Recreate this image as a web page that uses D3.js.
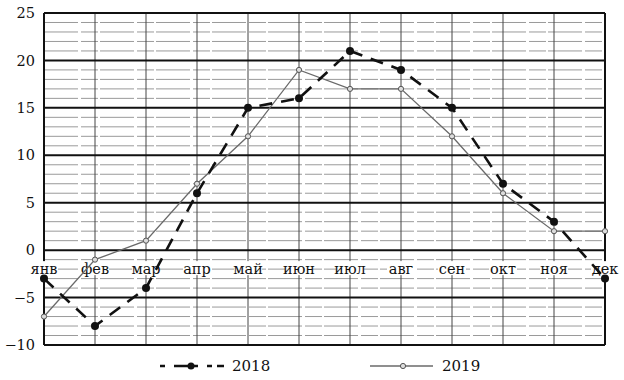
<!DOCTYPE html>
<html>
<head>
<meta charset="utf-8">
<script src="https://d3js.org/d3.v7.min.js"></script>
<style>
  body { margin: 0; background: #fff; }
  text { font-family: "DejaVu Serif", "Liberation Serif", serif; }
</style>
</head>
<body>
<div id="chart"></div>
<script>
var months = ["янв", "фев", "мар", "апр", "май", "июн", "июл", "авг", "сен", "окт", "ноя", "дек"];
var temp2018 = [-3, -8, -4, 6, 15, 16, 21, 19, 15, 7, 3, -3];
var temp2019 = [-7, -1, 1, 7, 12, 19, 17, 17, 12, 6, 2, 2];
var yTicks = [-10, -5, 0, 5, 10, 15, 20, 25];
var seriesNames = ["2018", "2019"];

var W = 624, H = 380;
var x0 = 44, x1 = 605, yTop = 13, yBot = 345;

var svg = d3.select("#chart").append("svg")
    .attr("width", W)
    .attr("height", H);

var x = d3.scalePoint()
    .domain(months)
    .range([x0, x1]);

var y = d3.scaleLinear()
    .domain([-10, 25])
    .range([yBot, yTop]);

// minor horizontal grid (every 1 unit)
var minor = d3.range(-10, 26).filter(function(v) { return v % 5 !== 0; });
svg.append("g")
  .selectAll("line")
  .data(minor)
  .enter().append("line")
    .attr("x1", x0).attr("x2", x1)
    .attr("y1", function(d) { return y(d); })
    .attr("y2", function(d) { return y(d); })
    .style("stroke", "#9a9a9a")
    .style("stroke-width", 1)
    .style("stroke-dasharray", "34,3,17,2");

// vertical month lines
svg.append("g")
  .selectAll("line")
  .data(months)
  .enter().append("line")
    .attr("x1", function(d) { return x(d); })
    .attr("x2", function(d) { return x(d); })
    .attr("y1", yTop).attr("y2", yBot)
    .style("stroke", "#444")
    .style("stroke-width", 1);

// major horizontal lines
svg.append("g")
  .selectAll("line")
  .data(yTicks)
  .enter().append("line")
    .attr("x1", x0).attr("x2", x1)
    .attr("y1", function(d) { return y(d); })
    .attr("y2", function(d) { return y(d); })
    .style("stroke", "#111")
    .style("stroke-width", 2);

// borders left/right
svg.append("line")
    .attr("x1", x0).attr("x2", x0).attr("y1", yTop).attr("y2", yBot)
    .style("stroke", "#111").style("stroke-width", 2);
svg.append("line")
    .attr("x1", x1).attr("x2", x1).attr("y1", yTop).attr("y2", yBot)
    .style("stroke", "#111").style("stroke-width", 2);

// y axis labels
var yAxis = svg.append("g")
    .attr("transform", "translate(35,0)")
    .call(d3.axisLeft(y).tickValues(yTicks).tickSize(0).tickPadding(0));
yAxis.select(".domain").remove();
yAxis.selectAll("text")
    .style("font-family", "'DejaVu Serif', serif")
    .style("font-size", "14.5px")
    .style("fill", "#111");

// month labels on the -2 line, with white backing
var labelY = y(-2);
var mLab = svg.append("g")
  .selectAll("g")
  .data(months)
  .enter().append("g")
    .attr("transform", function(d) { return "translate(" + x(d) + "," + labelY + ")"; });
mLab.append("rect")
    .attr("x", -14).attr("y", -8)
    .attr("width", 28).attr("height", 14)
    .style("fill", "#fff");
mLab.append("text")
    .attr("text-anchor", "middle")
    .attr("dy", "0.32em")
    .style("font-size", "14.5px")
    .style("fill", "#111")
    .text(function(d) { return d; });

var line = d3.line()
    .x(function(d, i) { return x(months[i]); })
    .y(function(d) { return y(d); });

// 2019
svg.append("path")
    .datum(temp2019)
    .attr("d", line)
    .style("fill", "none")
    .style("stroke", "#6a6a6a")
    .style("stroke-width", 1.3);
svg.append("g")
  .selectAll("circle")
  .data(temp2019)
  .enter().append("circle")
    .attr("cx", function(d, i) { return x(months[i]); })
    .attr("cy", function(d) { return y(d); })
    .attr("r", 2.6)
    .style("fill", "#ddd")
    .style("stroke", "#555")
    .style("stroke-width", 1);

// 2018
svg.append("path")
    .datum(temp2018)
    .attr("d", line)
    .style("fill", "none")
    .style("stroke", "#111")
    .style("stroke-width", 2.6)
    .style("stroke-dasharray", "13,9");
svg.append("g")
  .selectAll("circle")
  .data(temp2018)
  .enter().append("circle")
    .attr("cx", function(d, i) { return x(months[i]); })
    .attr("cy", function(d) { return y(d); })
    .attr("r", 4)
    .style("fill", "#111");

// legend
var ly = 366;
var l1 = svg.append("g");
l1.append("line")
    .attr("x1", 160).attr("x2", 224).attr("y1", ly).attr("y2", ly)
    .style("stroke", "#111").style("stroke-width", 2.6)
    .style("stroke-dasharray", "5,9,12,0,12,9,5");
l1.append("circle").attr("cx", 191).attr("cy", ly).attr("r", 3.5).style("fill", "#111");
l1.append("text")
    .attr("x", 232).attr("y", ly).attr("dy", "0.36em")
    .style("font-size", "15px").style("fill", "#111")
    .text(seriesNames[0]);

var l2 = svg.append("g");
l2.append("line")
    .attr("x1", 370).attr("x2", 433).attr("y1", ly).attr("y2", ly)
    .style("stroke", "#6a6a6a").style("stroke-width", 1.3);
l2.append("circle").attr("cx", 403).attr("cy", ly).attr("r", 2.6)
    .style("fill", "#ddd").style("stroke", "#555");
l2.append("text")
    .attr("x", 442).attr("y", ly).attr("dy", "0.36em")
    .style("font-size", "15px").style("fill", "#111")
    .text(seriesNames[1]);
</script>
</body>
</html>
